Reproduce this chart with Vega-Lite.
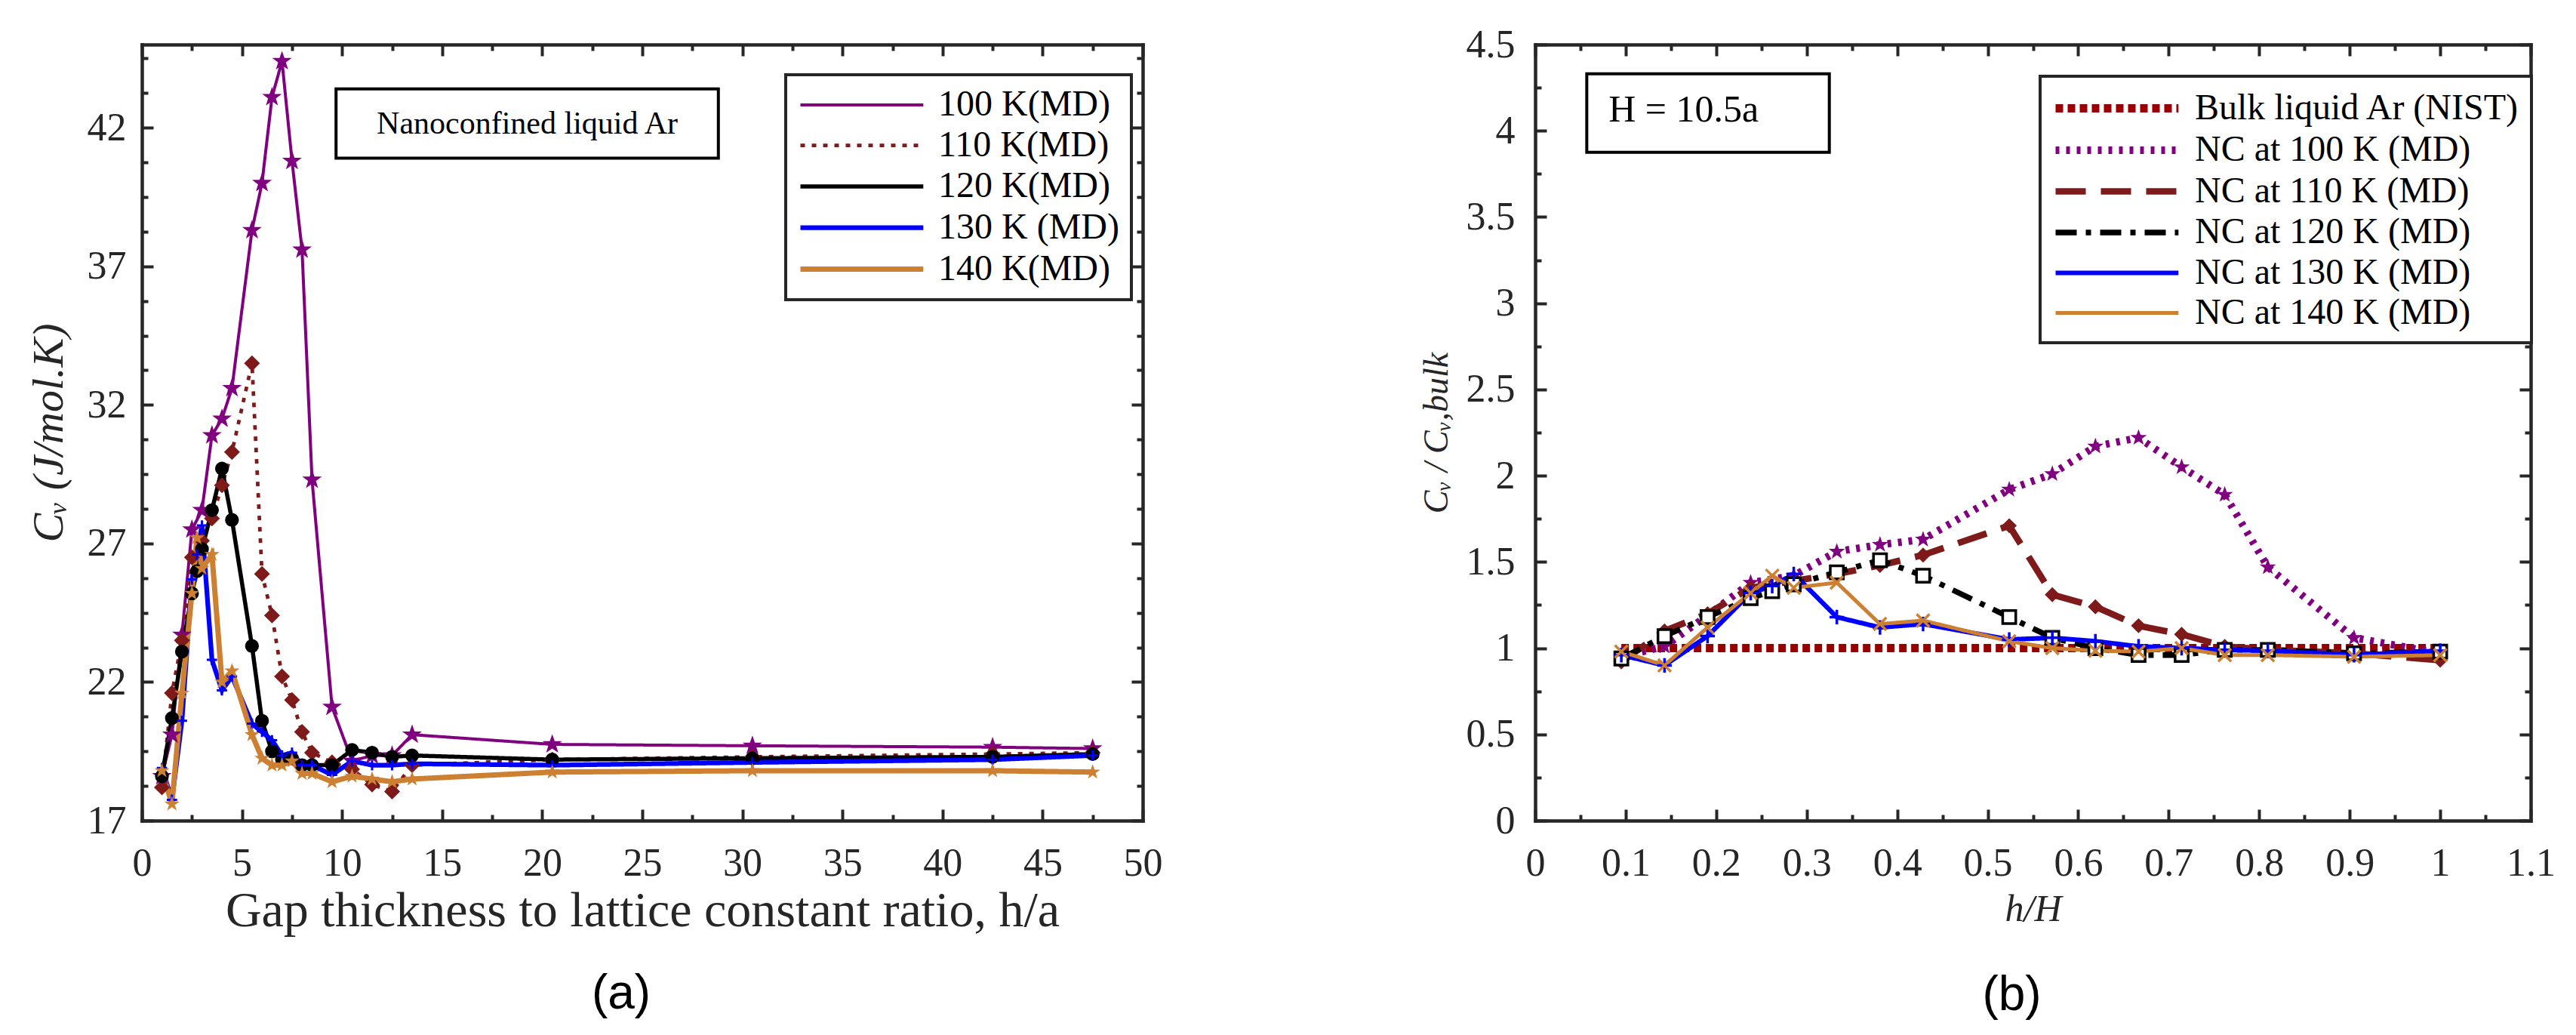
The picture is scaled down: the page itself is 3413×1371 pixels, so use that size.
{
  "$schema": "https://vega.github.io/schema/vega-lite/v6.json",
  "padding": {"left": 36, "top": 33, "right": 0, "bottom": 0},
  "spacing": 520,
  "bounds": "flush",
  "resolve": {
    "scale": {"color": "independent", "strokeDash": "independent", "strokeWidth": "independent", "shape": "independent", "stroke": "independent", "fill": "independent", "size": "independent"},
    "legend": {"color": "independent", "strokeDash": "independent", "strokeWidth": "independent", "shape": "independent", "stroke": "independent", "fill": "independent", "size": "independent"}
  },
  "datasets": {
    "left": [
      {"s": "100 K(MD)", "x": 1, "y": 18.6}, {"s": "100 K(MD)", "x": 1.5, "y": 20.1}, {"s": "100 K(MD)", "x": 2, "y": 23.7},
      {"s": "100 K(MD)", "x": 2.5, "y": 27.5}, {"s": "100 K(MD)", "x": 3, "y": 28.2}, {"s": "100 K(MD)", "x": 3.5, "y": 30.9},
      {"s": "100 K(MD)", "x": 4, "y": 31.5}, {"s": "100 K(MD)", "x": 4.5, "y": 32.6}, {"s": "100 K(MD)", "x": 5.5, "y": 38.3},
      {"s": "100 K(MD)", "x": 6, "y": 40.0}, {"s": "100 K(MD)", "x": 6.5, "y": 43.1}, {"s": "100 K(MD)", "x": 7, "y": 44.4},
      {"s": "100 K(MD)", "x": 7.5, "y": 40.8}, {"s": "100 K(MD)", "x": 8, "y": 37.6}, {"s": "100 K(MD)", "x": 8.5, "y": 29.3},
      {"s": "100 K(MD)", "x": 9.5, "y": 21.1}, {"s": "100 K(MD)", "x": 10.5, "y": 19.15}, {"s": "100 K(MD)", "x": 11.5, "y": 19.35},
      {"s": "100 K(MD)", "x": 12.5, "y": 19.35}, {"s": "100 K(MD)", "x": 13.5, "y": 20.1}, {"s": "100 K(MD)", "x": 20.5, "y": 19.75},
      {"s": "100 K(MD)", "x": 30.5, "y": 19.7}, {"s": "100 K(MD)", "x": 42.5, "y": 19.65}, {"s": "100 K(MD)", "x": 47.5, "y": 19.6},

      {"s": "110 K(MD)", "x": 1, "y": 18.2}, {"s": "110 K(MD)", "x": 1.5, "y": 21.6}, {"s": "110 K(MD)", "x": 2, "y": 23.5},
      {"s": "110 K(MD)", "x": 2.5, "y": 26.5}, {"s": "110 K(MD)", "x": 3, "y": 27.1}, {"s": "110 K(MD)", "x": 3.5, "y": 27.9},
      {"s": "110 K(MD)", "x": 4, "y": 29.1}, {"s": "110 K(MD)", "x": 4.5, "y": 30.3}, {"s": "110 K(MD)", "x": 5.5, "y": 33.5},
      {"s": "110 K(MD)", "x": 6, "y": 25.9}, {"s": "110 K(MD)", "x": 6.5, "y": 24.4}, {"s": "110 K(MD)", "x": 7, "y": 22.2},
      {"s": "110 K(MD)", "x": 7.5, "y": 21.35}, {"s": "110 K(MD)", "x": 8, "y": 20.2}, {"s": "110 K(MD)", "x": 8.5, "y": 19.45},
      {"s": "110 K(MD)", "x": 9.5, "y": 19.1}, {"s": "110 K(MD)", "x": 10.5, "y": 18.85}, {"s": "110 K(MD)", "x": 11.5, "y": 18.3},
      {"s": "110 K(MD)", "x": 12.5, "y": 18.05}, {"s": "110 K(MD)", "x": 13.5, "y": 19.0}, {"s": "110 K(MD)", "x": 20.5, "y": 19.2},
      {"s": "110 K(MD)", "x": 30.5, "y": 19.3}, {"s": "110 K(MD)", "x": 42.5, "y": 19.4}, {"s": "110 K(MD)", "x": 47.5, "y": 19.45},

      {"s": "120 K(MD)", "x": 1, "y": 18.6}, {"s": "120 K(MD)", "x": 1.5, "y": 20.7}, {"s": "120 K(MD)", "x": 2, "y": 23.1},
      {"s": "120 K(MD)", "x": 2.5, "y": 25.2}, {"s": "120 K(MD)", "x": 2.75, "y": 26.0}, {"s": "120 K(MD)", "x": 3, "y": 26.8},
      {"s": "120 K(MD)", "x": 3.5, "y": 28.2}, {"s": "120 K(MD)", "x": 4, "y": 29.7}, {"s": "120 K(MD)", "x": 4.5, "y": 27.85},
      {"s": "120 K(MD)", "x": 5.5, "y": 23.3}, {"s": "120 K(MD)", "x": 6, "y": 20.6}, {"s": "120 K(MD)", "x": 6.5, "y": 19.5},
      {"s": "120 K(MD)", "x": 7, "y": 19.2}, {"s": "120 K(MD)", "x": 7.5, "y": 19.25}, {"s": "120 K(MD)", "x": 8, "y": 19.0},
      {"s": "120 K(MD)", "x": 8.5, "y": 19.0}, {"s": "120 K(MD)", "x": 9.5, "y": 19.0}, {"s": "120 K(MD)", "x": 10.5, "y": 19.55},
      {"s": "120 K(MD)", "x": 11.5, "y": 19.45}, {"s": "120 K(MD)", "x": 12.5, "y": 19.3}, {"s": "120 K(MD)", "x": 13.5, "y": 19.35},
      {"s": "120 K(MD)", "x": 20.5, "y": 19.2}, {"s": "120 K(MD)", "x": 30.5, "y": 19.25}, {"s": "120 K(MD)", "x": 42.5, "y": 19.3},
      {"s": "120 K(MD)", "x": 47.5, "y": 19.4},

      {"s": "130 K (MD)", "x": 1, "y": 18.9}, {"s": "130 K (MD)", "x": 1.5, "y": 17.75}, {"s": "130 K (MD)", "x": 2, "y": 20.6},
      {"s": "130 K (MD)", "x": 2.5, "y": 25.7}, {"s": "130 K (MD)", "x": 2.75, "y": 26.6}, {"s": "130 K (MD)", "x": 3, "y": 27.65},
      {"s": "130 K (MD)", "x": 3.5, "y": 22.8}, {"s": "130 K (MD)", "x": 4, "y": 21.7}, {"s": "130 K (MD)", "x": 4.5, "y": 22.2},
      {"s": "130 K (MD)", "x": 5.5, "y": 20.5}, {"s": "130 K (MD)", "x": 6, "y": 20.2}, {"s": "130 K (MD)", "x": 6.5, "y": 19.9},
      {"s": "130 K (MD)", "x": 7, "y": 19.35}, {"s": "130 K (MD)", "x": 7.5, "y": 19.45}, {"s": "130 K (MD)", "x": 8, "y": 19.0},
      {"s": "130 K (MD)", "x": 8.5, "y": 19.0}, {"s": "130 K (MD)", "x": 9.5, "y": 18.65}, {"s": "130 K (MD)", "x": 10.5, "y": 19.15},
      {"s": "130 K (MD)", "x": 11.5, "y": 19.0}, {"s": "130 K (MD)", "x": 12.5, "y": 19.0}, {"s": "130 K (MD)", "x": 13.5, "y": 19.05},
      {"s": "130 K (MD)", "x": 20.5, "y": 19.0}, {"s": "130 K (MD)", "x": 30.5, "y": 19.1}, {"s": "130 K (MD)", "x": 42.5, "y": 19.2},
      {"s": "130 K (MD)", "x": 47.5, "y": 19.35},

      {"s": "140 K(MD)", "x": 1, "y": 18.8}, {"s": "140 K(MD)", "x": 1.5, "y": 17.6}, {"s": "140 K(MD)", "x": 2, "y": 21.6},
      {"s": "140 K(MD)", "x": 2.5, "y": 25.2}, {"s": "140 K(MD)", "x": 2.75, "y": 27.2}, {"s": "140 K(MD)", "x": 3, "y": 26.1},
      {"s": "140 K(MD)", "x": 3.5, "y": 26.6}, {"s": "140 K(MD)", "x": 4, "y": 22.0}, {"s": "140 K(MD)", "x": 4.5, "y": 22.4},
      {"s": "140 K(MD)", "x": 5.5, "y": 20.1}, {"s": "140 K(MD)", "x": 6, "y": 19.25}, {"s": "140 K(MD)", "x": 6.5, "y": 19.0},
      {"s": "140 K(MD)", "x": 7, "y": 19.0}, {"s": "140 K(MD)", "x": 7.5, "y": 19.15}, {"s": "140 K(MD)", "x": 8, "y": 18.7},
      {"s": "140 K(MD)", "x": 8.5, "y": 18.7}, {"s": "140 K(MD)", "x": 9.5, "y": 18.4}, {"s": "140 K(MD)", "x": 10.5, "y": 18.6},
      {"s": "140 K(MD)", "x": 11.5, "y": 18.5}, {"s": "140 K(MD)", "x": 12.5, "y": 18.4}, {"s": "140 K(MD)", "x": 13.5, "y": 18.5},
      {"s": "140 K(MD)", "x": 20.5, "y": 18.75}, {"s": "140 K(MD)", "x": 30.5, "y": 18.8}, {"s": "140 K(MD)", "x": 42.5, "y": 18.8},
      {"s": "140 K(MD)", "x": 47.5, "y": 18.75}
    ],
    "right": [
      {"s": "Bulk liquid Ar (NIST)", "x": 0.0952, "y": 1}, {"s": "Bulk liquid Ar (NIST)", "x": 1.0, "y": 1},

      {"s": "NC at 100 K (MD)", "x": 0.0952, "y": 0.95}, {"s": "NC at 100 K (MD)", "x": 0.1429, "y": 1.01}, {"s": "NC at 100 K (MD)", "x": 0.1905, "y": 1.19},
      {"s": "NC at 100 K (MD)", "x": 0.2381, "y": 1.38}, {"s": "NC at 100 K (MD)", "x": 0.2857, "y": 1.42}, {"s": "NC at 100 K (MD)", "x": 0.3333, "y": 1.56},
      {"s": "NC at 100 K (MD)", "x": 0.381, "y": 1.6}, {"s": "NC at 100 K (MD)", "x": 0.4286, "y": 1.63}, {"s": "NC at 100 K (MD)", "x": 0.5238, "y": 1.92},
      {"s": "NC at 100 K (MD)", "x": 0.5714, "y": 2.01}, {"s": "NC at 100 K (MD)", "x": 0.619, "y": 2.17}, {"s": "NC at 100 K (MD)", "x": 0.6667, "y": 2.22},
      {"s": "NC at 100 K (MD)", "x": 0.7143, "y": 2.05}, {"s": "NC at 100 K (MD)", "x": 0.7619, "y": 1.89}, {"s": "NC at 100 K (MD)", "x": 0.8095, "y": 1.47},
      {"s": "NC at 100 K (MD)", "x": 0.9048, "y": 1.06}, {"s": "NC at 100 K (MD)", "x": 1.0, "y": 0.97},

      {"s": "NC at 110 K (MD)", "x": 0.0952, "y": 0.92}, {"s": "NC at 110 K (MD)", "x": 0.1429, "y": 1.1}, {"s": "NC at 110 K (MD)", "x": 0.1905, "y": 1.2},
      {"s": "NC at 110 K (MD)", "x": 0.2381, "y": 1.35}, {"s": "NC at 110 K (MD)", "x": 0.2857, "y": 1.39}, {"s": "NC at 110 K (MD)", "x": 0.3333, "y": 1.43},
      {"s": "NC at 110 K (MD)", "x": 0.381, "y": 1.48}, {"s": "NC at 110 K (MD)", "x": 0.4286, "y": 1.54}, {"s": "NC at 110 K (MD)", "x": 0.5238, "y": 1.71},
      {"s": "NC at 110 K (MD)", "x": 0.5714, "y": 1.31}, {"s": "NC at 110 K (MD)", "x": 0.619, "y": 1.24}, {"s": "NC at 110 K (MD)", "x": 0.6667, "y": 1.13},
      {"s": "NC at 110 K (MD)", "x": 0.7143, "y": 1.08}, {"s": "NC at 110 K (MD)", "x": 0.7619, "y": 1.01}, {"s": "NC at 110 K (MD)", "x": 0.8095, "y": 0.99},
      {"s": "NC at 110 K (MD)", "x": 0.9048, "y": 0.97}, {"s": "NC at 110 K (MD)", "x": 1.0, "y": 0.93},

      {"s": "NC at 120 K (MD)", "x": 0.0952, "y": 0.94}, {"s": "NC at 120 K (MD)", "x": 0.1429, "y": 1.07}, {"s": "NC at 120 K (MD)", "x": 0.1905, "y": 1.18},
      {"s": "NC at 120 K (MD)", "x": 0.2381, "y": 1.29}, {"s": "NC at 120 K (MD)", "x": 0.2619, "y": 1.33}, {"s": "NC at 120 K (MD)", "x": 0.2857, "y": 1.37},
      {"s": "NC at 120 K (MD)", "x": 0.3333, "y": 1.44}, {"s": "NC at 120 K (MD)", "x": 0.381, "y": 1.51}, {"s": "NC at 120 K (MD)", "x": 0.4286, "y": 1.42},
      {"s": "NC at 120 K (MD)", "x": 0.5238, "y": 1.18}, {"s": "NC at 120 K (MD)", "x": 0.5714, "y": 1.06}, {"s": "NC at 120 K (MD)", "x": 0.619, "y": 1.0},
      {"s": "NC at 120 K (MD)", "x": 0.6667, "y": 0.96}, {"s": "NC at 120 K (MD)", "x": 0.7143, "y": 0.96}, {"s": "NC at 120 K (MD)", "x": 0.7619, "y": 0.99},
      {"s": "NC at 120 K (MD)", "x": 0.8095, "y": 0.99}, {"s": "NC at 120 K (MD)", "x": 0.9048, "y": 0.97}, {"s": "NC at 120 K (MD)", "x": 1.0, "y": 0.98},

      {"s": "NC at 130 K (MD)", "x": 0.0952, "y": 0.96}, {"s": "NC at 130 K (MD)", "x": 0.1429, "y": 0.9}, {"s": "NC at 130 K (MD)", "x": 0.1905, "y": 1.07},
      {"s": "NC at 130 K (MD)", "x": 0.2381, "y": 1.32}, {"s": "NC at 130 K (MD)", "x": 0.2619, "y": 1.36}, {"s": "NC at 130 K (MD)", "x": 0.2857, "y": 1.43},
      {"s": "NC at 130 K (MD)", "x": 0.3333, "y": 1.18}, {"s": "NC at 130 K (MD)", "x": 0.381, "y": 1.12}, {"s": "NC at 130 K (MD)", "x": 0.4286, "y": 1.14},
      {"s": "NC at 130 K (MD)", "x": 0.5238, "y": 1.05}, {"s": "NC at 130 K (MD)", "x": 0.5714, "y": 1.06}, {"s": "NC at 130 K (MD)", "x": 0.619, "y": 1.04},
      {"s": "NC at 130 K (MD)", "x": 0.6667, "y": 1.01}, {"s": "NC at 130 K (MD)", "x": 0.7143, "y": 1.0}, {"s": "NC at 130 K (MD)", "x": 0.7619, "y": 0.99},
      {"s": "NC at 130 K (MD)", "x": 0.8095, "y": 0.985}, {"s": "NC at 130 K (MD)", "x": 0.9048, "y": 0.96}, {"s": "NC at 130 K (MD)", "x": 1.0, "y": 0.985},

      {"s": "NC at 140 K (MD)", "x": 0.0952, "y": 0.98}, {"s": "NC at 140 K (MD)", "x": 0.1429, "y": 0.9}, {"s": "NC at 140 K (MD)", "x": 0.1905, "y": 1.12},
      {"s": "NC at 140 K (MD)", "x": 0.2381, "y": 1.32}, {"s": "NC at 140 K (MD)", "x": 0.2619, "y": 1.42}, {"s": "NC at 140 K (MD)", "x": 0.2857, "y": 1.35},
      {"s": "NC at 140 K (MD)", "x": 0.3333, "y": 1.38}, {"s": "NC at 140 K (MD)", "x": 0.381, "y": 1.14}, {"s": "NC at 140 K (MD)", "x": 0.4286, "y": 1.16},
      {"s": "NC at 140 K (MD)", "x": 0.5238, "y": 1.04}, {"s": "NC at 140 K (MD)", "x": 0.5714, "y": 1.0}, {"s": "NC at 140 K (MD)", "x": 0.619, "y": 0.985},
      {"s": "NC at 140 K (MD)", "x": 0.6667, "y": 0.98}, {"s": "NC at 140 K (MD)", "x": 0.7143, "y": 1.0}, {"s": "NC at 140 K (MD)", "x": 0.7619, "y": 0.96},
      {"s": "NC at 140 K (MD)", "x": 0.8095, "y": 0.96}, {"s": "NC at 140 K (MD)", "x": 0.9048, "y": 0.95}, {"s": "NC at 140 K (MD)", "x": 1.0, "y": 0.96}
    ]
  },
  "hconcat": [
    {
      "width": 1326,
      "height": 1028,
      "title": {"text": "(a)", "orient": "bottom", "font": "Liberation Sans", "fontSize": 64, "fontWeight": "normal", "color": "#000000", "offset": 46, "dx": -28},
      "data": {"name": "left"},
      "layer": [
        {
          "mark": {"type": "line", "clip": true},
          "encoding": {
            "x": {"field": "x", "type": "quantitative", "scale": {"domain": [0, 50], "nice": false, "zero": false},
              "axis": {"orient": "bottom", "values": [0, 5, 10, 15, 20, 25, 30, 35, 40, 45, 50], "tickSize": -15, "labelPadding": 46,
                "title": "Gap thickness to lattice constant ratio, h/a", "titlePadding": 5, "titleFontSize": 66}},
            "y": {"field": "y", "type": "quantitative", "scale": {"domain": [17, 45], "nice": false, "zero": false},
              "axis": {"orient": "left", "values": [17, 22, 27, 32, 37, 42], "tickSize": -15, "labelPadding": 36,
                "title": "Cᵥ  (J/mol.K)", "titlePadding": 21, "titleFontStyle": "italic", "titleFontSize": 58}},
            "color": {"field": "s", "type": "nominal",
              "scale": {"domain": ["100 K(MD)", "110 K(MD)", "120 K(MD)", "130 K (MD)", "140 K(MD)"], "range": ["#800080", "#7F1A1A", "#000000", "#0000FF", "#CD7F32"]},
              "legend": {"orient": "none", "legendX": 853, "legendY": 40, "title": null, "symbolType": "M-1,0H6.4", "symbolSize": 1936,
                "labelFont": "Liberation Serif", "labelFontSize": 48, "labelColor": "#000000", "labelOffset": 135, "labelLimit": 0,
                "rowPadding": 5, "padding": 16, "strokeColor": "#262626", "fillColor": "white", "cornerRadius": 0,
                "encode": {"legend": {"update": {"strokeWidth": {"value": 4}}}}}},
            "strokeDash": {"field": "s", "type": "nominal",
              "scale": {"domain": ["100 K(MD)", "110 K(MD)", "120 K(MD)", "130 K (MD)", "140 K(MD)"], "range": [[1, 0], [6, 9], [1, 0], [1, 0], [1, 0]]},
              "legend": {"orient": "none", "legendX": 853, "legendY": 40, "title": null, "symbolType": "M-1,0H6.4", "symbolSize": 1936,
                "labelFont": "Liberation Serif", "labelFontSize": 48, "labelColor": "#000000", "labelOffset": 135, "labelLimit": 0,
                "rowPadding": 5, "padding": 16, "strokeColor": "#262626", "fillColor": "white", "cornerRadius": 0}},
            "strokeWidth": {"field": "s", "type": "nominal",
              "scale": {"domain": ["100 K(MD)", "110 K(MD)", "120 K(MD)", "130 K (MD)", "140 K(MD)"], "range": [4, 7, 4, 3.5, 4]},
              "legend": {"orient": "none", "legendX": 853, "legendY": 40, "title": null, "symbolType": "M-1,0H6.4", "symbolSize": 1936,
                "labelFont": "Liberation Serif", "labelFontSize": 48, "labelColor": "#000000", "labelOffset": 135, "labelLimit": 0,
                "rowPadding": 5, "padding": 16, "strokeColor": "#262626", "fillColor": "white", "cornerRadius": 0}}
          }
        },
        {
          "mark": {"type": "point", "filled": true, "opacity": 1, "strokeWidth": 3},
          "encoding": {
            "x": {"field": "x", "type": "quantitative", "scale": {"domain": [0, 50], "nice": false, "zero": false},
              "axis": {"orient": "top", "values": [0, 5, 10, 15, 20, 25, 30, 35, 40, 45, 50], "tickSize": -15, "labels": false, "title": null}},
            "y": {"field": "y", "type": "quantitative", "scale": {"domain": [17, 45], "nice": false, "zero": false},
              "axis": {"orient": "right", "values": [17, 22, 27, 32, 37, 42], "tickSize": -15, "labels": false, "title": null}},
            "shape": {"field": "s", "type": "nominal", "legend": null,
              "scale": {"domain": ["140 K(MD)", "130 K (MD)", "120 K(MD)", "110 K(MD)", "100 K(MD)"],
                "range": ["M0,-1L0.235,-0.324L0.951,-0.309L0.38,0.124L0.588,0.809L0,0.4L-0.588,0.809L-0.38,0.124L-0.951,-0.309L-0.235,-0.324Z", "M-1,0L1,0M0,-1L0,1", "circle", "diamond", "M0,-1L0.235,-0.324L0.951,-0.309L0.38,0.124L0.588,0.809L0,0.4L-0.588,0.809L-0.38,0.124L-0.951,-0.309L-0.235,-0.324Z"]}},
            "stroke": {"field": "s", "type": "nominal", "legend": null,
              "scale": {"domain": ["140 K(MD)", "130 K (MD)", "120 K(MD)", "110 K(MD)", "100 K(MD)"], "range": ["#CD7F32", "#0000FF", "#000000", "#7F1A1A", "#800080"]}},
            "fill": {"field": "s", "type": "nominal", "legend": null,
              "scale": {"domain": ["140 K(MD)", "130 K (MD)", "120 K(MD)", "110 K(MD)", "100 K(MD)"], "range": ["#CD7F32", "transparent", "#000000", "#7F1A1A", "#800080"]}},
            "size": {"field": "s", "type": "nominal", "legend": null,
              "scale": {"domain": ["140 K(MD)", "130 K (MD)", "120 K(MD)", "110 K(MD)", "100 K(MD)"], "range": [140, 330, 60, 300, 180]}}
          }
        },
        {
          "mark": {"type": "point", "opacity": 0},
          "encoding": {
            "x": {"field": "x", "type": "quantitative", "scale": {"domain": [0, 50], "nice": false, "zero": false},
              "axis": {"orient": "bottom", "values": [2.5, 7.5, 12.5, 17.5, 22.5, 27.5, 32.5, 37.5, 42.5, 47.5], "tickSize": -8, "labels": false, "domain": false, "title": null}},
            "y": {"field": "y", "type": "quantitative", "scale": {"domain": [17, 45], "nice": false, "zero": false},
              "axis": {"orient": "left", "values": [18.25, 19.5, 20.75, 23.25, 24.5, 25.75, 28.25, 29.5, 30.75, 33.25, 34.5, 35.75, 38.25, 39.5, 40.75, 43.25, 44.5], "tickSize": -8, "labels": false, "domain": false, "title": null}}
          }
        },
        {
          "mark": {"type": "point", "opacity": 0},
          "encoding": {
            "x": {"field": "x", "type": "quantitative", "scale": {"domain": [0, 50], "nice": false, "zero": false},
              "axis": {"orient": "top", "values": [2.5, 7.5, 12.5, 17.5, 22.5, 27.5, 32.5, 37.5, 42.5, 47.5], "tickSize": -8, "labels": false, "domain": false, "title": null}},
            "y": {"field": "y", "type": "quantitative", "scale": {"domain": [17, 45], "nice": false, "zero": false},
              "axis": {"orient": "right", "values": [18.25, 19.5, 20.75, 23.25, 24.5, 25.75, 28.25, 29.5, 30.75, 33.25, 34.5, 35.75, 38.25, 39.5, 40.75, 43.25, 44.5], "tickSize": -8, "labels": false, "domain": false, "title": null}}
          }
        },
        {
          "data": {"values": [{"x1": 9.7, "x2": 28.8, "y1": 40.9, "y2": 43.4}]},
          "mark": {"type": "rect", "fill": "white", "stroke": "#000000", "strokeWidth": 4},
          "encoding": {
            "x": {"field": "x1", "type": "quantitative", "scale": {"domain": [0, 50], "nice": false, "zero": false}, "axis": null},
            "x2": {"field": "x2"},
            "y": {"field": "y1", "type": "quantitative", "scale": {"domain": [17, 45], "nice": false, "zero": false}, "axis": null},
            "y2": {"field": "y2"}
          }
        },
        {
          "data": {"values": [{"tx": 19.25, "ty": 42.15, "label": "Nanoconfined liquid Ar"}]},
          "mark": {"type": "text", "font": "Liberation Serif", "fontSize": 42, "color": "#000000", "align": "center", "baseline": "middle"},
          "encoding": {
            "x": {"field": "tx", "type": "quantitative", "scale": {"domain": [0, 50], "nice": false, "zero": false}, "axis": null},
            "y": {"field": "ty", "type": "quantitative", "scale": {"domain": [17, 45], "nice": false, "zero": false}, "axis": null},
            "text": {"field": "label"}
          }
        }
      ],
      "resolve": {"axis": {"x": "independent", "y": "independent"}}
    },
    {
      "width": 1319,
      "height": 1028,
      "title": {"text": "(b)", "orient": "bottom", "font": "Liberation Sans", "fontSize": 64, "fontWeight": "normal", "color": "#000000", "offset": 58, "dx": -28},
      "data": {"name": "right"},
      "layer": [
        {
          "mark": {"type": "line", "clip": true},
          "encoding": {
            "x": {"field": "x", "type": "quantitative", "scale": {"domain": [0, 1.1], "nice": false, "zero": false},
              "axis": {"orient": "bottom", "values": [0, 0.1, 0.2, 0.3, 0.4, 0.5, 0.6, 0.7, 0.8, 0.9, 1, 1.1], "format": "~g", "tickSize": -15, "labelPadding": 46,
                "title": "h/H", "titlePadding": 10, "titleFontStyle": "italic", "titleFontSize": 50}},
            "y": {"field": "y", "type": "quantitative", "scale": {"domain": [0, 4.5], "nice": false, "zero": false},
              "axis": {"orient": "left", "values": [0, 0.5, 1, 1.5, 2, 2.5, 3, 3.5, 4, 4.5], "format": "~g", "tickSize": -15, "labelPadding": 42,
                "title": "Cᵥ / Cᵥ,bulk", "titlePadding": 15, "titleFontStyle": "italic", "titleFontSize": 46}},
            "color": {"field": "s", "type": "nominal",
              "scale": {"domain": ["Bulk liquid Ar (NIST)", "NC at 100 K (MD)", "NC at 110 K (MD)", "NC at 120 K (MD)", "NC at 130 K (MD)", "NC at 140 K (MD)"],
                "range": ["#990000", "#800080", "#7F1A1A", "#000000", "#0000FF", "#CD7F32"]},
              "legend": {"orient": "none", "legendX": 669, "legendY": 42, "title": null, "symbolType": "M-1,0H6.4", "symbolSize": 1936,
                "labelFont": "Liberation Serif", "labelFontSize": 48, "labelColor": "#000000", "labelOffset": 135, "labelLimit": 0,
                "rowPadding": 4, "padding": 15, "strokeColor": "#262626", "fillColor": "white", "cornerRadius": 0,
                "encode": {"legend": {"update": {"strokeWidth": {"value": 4}}}}}},
            "strokeDash": {"field": "s", "type": "nominal",
              "scale": {"domain": ["Bulk liquid Ar (NIST)", "NC at 100 K (MD)", "NC at 110 K (MD)", "NC at 120 K (MD)", "NC at 130 K (MD)", "NC at 140 K (MD)"],
                "range": [[10, 6], [5, 9], [40, 20], [28, 12, 7, 12], [1, 0], [1, 0]]},
              "legend": {"orient": "none", "legendX": 669, "legendY": 42, "title": null, "symbolType": "M-1,0H6.4", "symbolSize": 1936,
                "labelFont": "Liberation Serif", "labelFontSize": 48, "labelColor": "#000000", "labelOffset": 135, "labelLimit": 0,
                "rowPadding": 4, "padding": 15, "strokeColor": "#262626", "fillColor": "white", "cornerRadius": 0}},
            "strokeWidth": {"field": "s", "type": "nominal",
              "scale": {"domain": ["Bulk liquid Ar (NIST)", "NC at 100 K (MD)", "NC at 110 K (MD)", "NC at 120 K (MD)", "NC at 130 K (MD)", "NC at 140 K (MD)"],
                "range": [11, 5, 10, 7, 3.5, 4]},
              "legend": {"orient": "none", "legendX": 669, "legendY": 42, "title": null, "symbolType": "M-1,0H6.4", "symbolSize": 1936,
                "labelFont": "Liberation Serif", "labelFontSize": 48, "labelColor": "#000000", "labelOffset": 135, "labelLimit": 0,
                "rowPadding": 4, "padding": 15, "strokeColor": "#262626", "fillColor": "white", "cornerRadius": 0}}
          }
        },
        {
          "transform": [{"filter": "datum.s != 'Bulk liquid Ar (NIST)'"}],
          "mark": {"type": "point", "filled": true, "opacity": 1, "strokeWidth": 3.5},
          "encoding": {
            "x": {"field": "x", "type": "quantitative", "scale": {"domain": [0, 1.1], "nice": false, "zero": false},
              "axis": {"orient": "top", "values": [0, 0.1, 0.2, 0.3, 0.4, 0.5, 0.6, 0.7, 0.8, 0.9, 1, 1.1], "tickSize": -15, "labels": false, "title": null}},
            "y": {"field": "y", "type": "quantitative", "scale": {"domain": [0, 4.5], "nice": false, "zero": false},
              "axis": {"orient": "right", "values": [0, 0.5, 1, 1.5, 2, 2.5, 3, 3.5, 4, 4.5], "tickSize": -15, "labels": false, "title": null}},
            "shape": {"field": "s", "type": "nominal", "legend": null,
              "scale": {"domain": ["NC at 100 K (MD)", "NC at 110 K (MD)", "NC at 120 K (MD)", "NC at 130 K (MD)", "NC at 140 K (MD)"],
                "range": ["M0,-1L0.235,-0.324L0.951,-0.309L0.38,0.124L0.588,0.809L0,0.4L-0.588,0.809L-0.38,0.124L-0.951,-0.309L-0.235,-0.324Z", "diamond", "square", "M-1,0L1,0M0,-1L0,1", "M-0.8,-0.8L0.8,0.8M-0.8,0.8L0.8,-0.8"]}},
            "stroke": {"field": "s", "type": "nominal", "legend": null,
              "scale": {"domain": ["NC at 100 K (MD)", "NC at 110 K (MD)", "NC at 120 K (MD)", "NC at 130 K (MD)", "NC at 140 K (MD)"], "range": ["#800080", "#7F1A1A", "#000000", "#0000FF", "#CD7F32"]}},
            "fill": {"field": "s", "type": "nominal", "legend": null,
              "scale": {"domain": ["NC at 100 K (MD)", "NC at 110 K (MD)", "NC at 120 K (MD)", "NC at 130 K (MD)", "NC at 140 K (MD)"], "range": ["#800080", "#7F1A1A", "white", "transparent", "transparent"]}},
            "size": {"field": "s", "type": "nominal", "legend": null,
              "scale": {"domain": ["NC at 100 K (MD)", "NC at 110 K (MD)", "NC at 120 K (MD)", "NC at 130 K (MD)", "NC at 140 K (MD)"], "range": [150, 450, 200, 700, 550]}}
          }
        },
        {
          "mark": {"type": "point", "opacity": 0},
          "encoding": {
            "x": {"field": "x", "type": "quantitative", "scale": {"domain": [0, 1.1], "nice": false, "zero": false},
              "axis": {"orient": "bottom", "values": [0.05, 0.15, 0.25, 0.35, 0.45, 0.55, 0.65, 0.75, 0.85, 0.95, 1.05], "tickSize": -8, "labels": false, "domain": false, "title": null}},
            "y": {"field": "y", "type": "quantitative", "scale": {"domain": [0, 4.5], "nice": false, "zero": false},
              "axis": {"orient": "left", "values": [0.25, 0.75, 1.25, 1.75, 2.25, 2.75, 3.25, 3.75, 4.25], "tickSize": -8, "labels": false, "domain": false, "title": null}}
          }
        },
        {
          "mark": {"type": "point", "opacity": 0},
          "encoding": {
            "x": {"field": "x", "type": "quantitative", "scale": {"domain": [0, 1.1], "nice": false, "zero": false},
              "axis": {"orient": "top", "values": [0.05, 0.15, 0.25, 0.35, 0.45, 0.55, 0.65, 0.75, 0.85, 0.95, 1.05], "tickSize": -8, "labels": false, "domain": false, "title": null}},
            "y": {"field": "y", "type": "quantitative", "scale": {"domain": [0, 4.5], "nice": false, "zero": false},
              "axis": {"orient": "right", "values": [0.25, 0.75, 1.25, 1.75, 2.25, 2.75, 3.25, 3.75, 4.25], "tickSize": -8, "labels": false, "domain": false, "title": null}}
          }
        },
        {
          "data": {"values": [{"x1": 0.057, "x2": 0.325, "y1": 3.875, "y2": 4.33}]},
          "mark": {"type": "rect", "fill": "white", "stroke": "#000000", "strokeWidth": 4},
          "encoding": {
            "x": {"field": "x1", "type": "quantitative", "scale": {"domain": [0, 1.1], "nice": false, "zero": false}, "axis": null},
            "x2": {"field": "x2"},
            "y": {"field": "y1", "type": "quantitative", "scale": {"domain": [0, 4.5], "nice": false, "zero": false}, "axis": null},
            "y2": {"field": "y2"}
          }
        },
        {
          "data": {"values": [{"tx": 0.081, "ty": 4.12, "label": "H = 10.5a"}]},
          "mark": {"type": "text", "font": "Liberation Serif", "fontSize": 50, "color": "#000000", "align": "left", "baseline": "middle"},
          "encoding": {
            "x": {"field": "tx", "type": "quantitative", "scale": {"domain": [0, 1.1], "nice": false, "zero": false}, "axis": null},
            "y": {"field": "ty", "type": "quantitative", "scale": {"domain": [0, 4.5], "nice": false, "zero": false}, "axis": null},
            "text": {"field": "label"}
          }
        }
      ],
      "resolve": {"axis": {"x": "independent", "y": "independent"}}
    }
  ],
  "config": {
    "view": {"stroke": null},
    "axis": {
      "grid": false, "domainColor": "#262626", "domainWidth": 4.5, "domainCap": "square",
      "tickColor": "#262626", "tickWidth": 4,
      "labelFont": "Liberation Serif", "labelFontSize": 52, "labelColor": "#262626", "labelFlush": false, "labelOverlap": false,
      "titleFont": "Liberation Serif", "titleFontSize": 58, "titleColor": "#262626", "titleFontWeight": "normal"
    }
  }
}
